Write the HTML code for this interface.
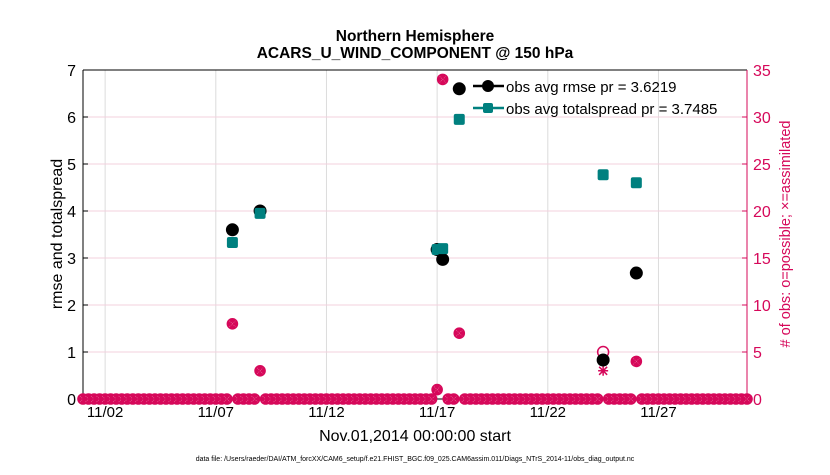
<!DOCTYPE html>
<html><head><meta charset="utf-8"><style>
body{margin:0;background:#fff;}
svg{font-family:"Liberation Sans",sans-serif;}
</style></head><body>
<svg id="chart" width="830" height="470" viewBox="0 0 830 470">
<text x="415" y="41" text-anchor="middle" font-size="15.5" font-weight="bold">Northern Hemisphere</text>
<text x="415" y="58" text-anchor="middle" font-size="15.5" font-weight="bold">ACARS_U_WIND_COMPONENT @ 150 hPa</text>
<g id="grid"></g>
<g id="axes"></g>
<g id="marks"></g>
<text transform="translate(62,234) rotate(-90)" text-anchor="middle" font-size="16">rmse and totalspread</text>
<text transform="translate(790,234) rotate(-90)" text-anchor="middle" font-size="14.5" fill="#d6085a"># of obs: o=possible; ×=assimilated</text>
<text x="415" y="441" text-anchor="middle" font-size="16">Nov.01,2014 00:00:00 start</text>
<text x="415" y="461" text-anchor="middle" font-size="7">data file: /Users/raeder/DAI/ATM_forcXX/CAM6_setup/f.e21.FHIST_BGC.f09_025.CAM6assim.011/Diags_NTrS_2014-11/obs_diag_output.nc</text>
<g>
<line x1="473" y1="86" x2="504" y2="86" stroke="#000" stroke-width="2.5"/>
<circle cx="488" cy="86" r="6" fill="#000"/>
<text x="506" y="92" font-size="15">obs avg rmse pr = 3.6219</text>
<line x1="473" y1="108" x2="504" y2="108" stroke="#00807f" stroke-width="2.5"/>
<rect x="483" y="103" width="10" height="10" rx="2" fill="#00807f"/>
<text x="506" y="114" font-size="15">obs avg totalspread pr = 3.7485</text>
</g>
</svg>
<script>
const days = [7.75, 9.0, 17.0, 17.25, 18.0, 24.5, 26.0];
const rmse = [3.6, 4.0, 3.18, 2.97, 6.6, 0.83, 2.68];
const spread = [3.33, 3.95, 3.18, 3.2, 5.95, 4.77, 4.6];
const possible = [8, 3, 1, 34, 7, 5, 4];
const assimilated = [8, 3, 1, 34, 7, 3, 4];
const xTicks = [2, 7, 12, 17, 22, 27];
const xTickLabels = ["11/02","11/07","11/12","11/17","11/22","11/27"];
const yTicks = [0,1,2,3,4,5,6,7];
const y2Ticks = [0,5,10,15,20,25,30,35];

const L=83,R=747,T=70,B=399;
const x = d => L + (d-1)/30*(R-L);
const y = v => B - v/7*(B-T);
const y2 = v => B - v/35*(B-T);
const NS="http://www.w3.org/2000/svg";
function mk(tag, attrs, parent){const e=document.createElementNS(NS,tag);for(const k in attrs)e.setAttribute(k,attrs[k]);parent.appendChild(e);return e;}
const grid=document.getElementById('grid'), axes=document.getElementById('axes'), marks=document.getElementById('marks');

xTicks.forEach((d,i)=>{
  const g=mk('line',{x1:x(d),x2:x(d),y1:T,y2:B,stroke:'#dcdcdc','stroke-width':1},grid);
  
  
  const t=mk('text',{x:x(d),y:B+18,'text-anchor':'middle','font-size':15},axes);
  t.textContent=xTickLabels[i];
  
  
});
yTicks.forEach(v=>{
  const g=mk('line',{x1:L,x2:R,y1:y(v),y2:y(v),stroke:'#f3d0dd','stroke-width':1},grid);
  
  
  mk('line',{x1:L,x2:L+5,y1:y(v),y2:y(v),stroke:'#000'},axes);
  const t=mk('text',{x:L-7,y:y(v)+6,'text-anchor':'end','font-size':16},axes);
  t.textContent=v;
  
  
});
y2Ticks.forEach(v=>{
  mk('line',{x1:R-5,x2:R,y1:y2(v),y2:y2(v),stroke:'#d6085a'},axes);
  const t=mk('text',{x:R+6,y:y2(v)+6,'font-size':16,fill:'#d6085a'},axes);
  t.textContent=v;
  
  
});
mk('line',{x1:L,x2:R,y1:T,y2:T,stroke:'#000'},axes);
mk('line',{x1:L,x2:R,y1:B,y2:B,stroke:'#000'},axes);
mk('line',{x1:L,x2:L,y1:T,y2:B,stroke:'#000'},axes);
mk('line',{x1:R,x2:R,y1:T,y2:B,stroke:'#d6085a'},axes);

const PINK='#d6085a';
function pinkFilled(cx,cy,name){
  const c=mk('circle',{cx:cx,cy:cy,r:5.8,fill:PINK},marks);
  
  
  mk('path',{d:`M${cx-3} ${cy-3}L${cx+3} ${cy+3}M${cx-3} ${cy+3}L${cx+3} ${cy-3}`,stroke:'#e97aa3','stroke-width':0.6,'stroke-dasharray':'1 1'},marks);
}
for(let k=0;k<=120;k++){
  const d=1+k/4;
  if(days.some(dd=>Math.abs(dd-d)<1e-6)) continue;
  pinkFilled(x(d),y2(0),'possible-zero-marker');
}
days.forEach((d,i)=>{
  const cx=x(d);
  if(possible[i]===assimilated[i]){
    pinkFilled(cx,y2(possible[i]),'possible-count-marker');
  } else {
    const c=mk('circle',{cx:cx,cy:y2(possible[i]),r:5.5,fill:'none',stroke:PINK,'stroke-width':1.5},marks);
    
    
    const cy=y2(assimilated[i]);
    const a=mk('path',{d:`M${cx-5} ${cy}L${cx+5} ${cy}M${cx} ${cy-5}L${cx} ${cy+5}M${cx-4} ${cy-4}L${cx+4} ${cy+4}M${cx-4} ${cy+4}L${cx+4} ${cy-4}`,stroke:PINK,'stroke-width':1.5},marks);
    
    
  }
  const r=mk('circle',{cx:cx,cy:y(rmse[i]),r:6.5,fill:'#000'},marks);
  
  
  const s=mk('rect',{x:cx-5.5,y:y(spread[i])-5.5,width:11,height:11,rx:2,fill:'#00807f'},marks);
  
  
});
</script>
</body></html>
